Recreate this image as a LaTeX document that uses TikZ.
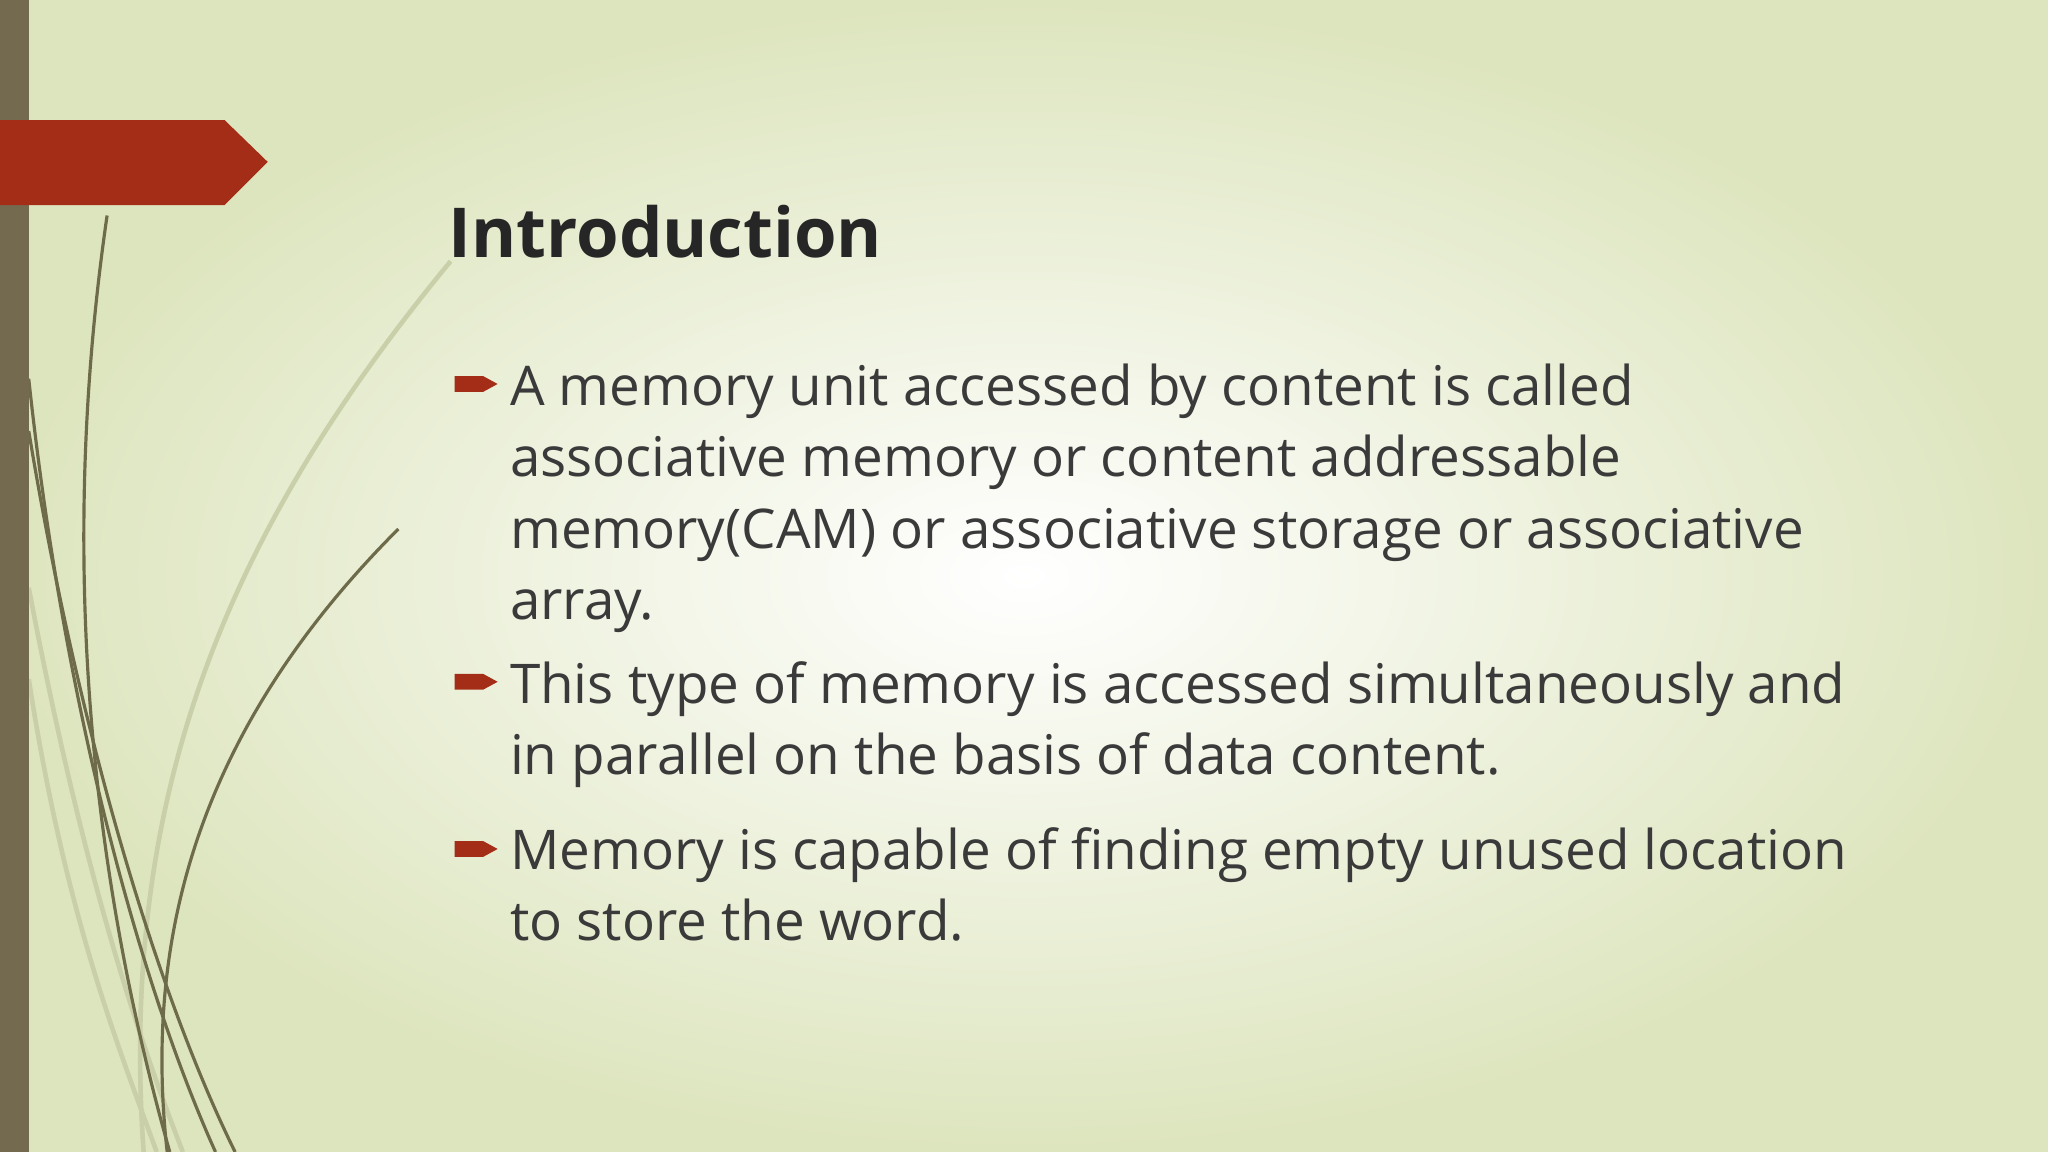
\documentclass[tikz,border=0pt]{standalone}
\usepackage{fontspec}
\setmainfont{Open Sans}
\begin{document}
\begin{tikzpicture}[x=0.013cm,y=-0.013cm,
  curve/.style={draw=olivec,line width=0.9pt},
  curvel/.style={draw=olivel,line width=1.3pt},
  body/.style={anchor=north west,align=left,font=\fontsize{15.5}{20.2}\selectfont,text=textc,inner sep=0pt},
  bul/.style={fill=redc}]
\definecolor{bgedge}{HTML}{DDE5BE}
\definecolor{olivec}{HTML}{6E6B4A}
\definecolor{olivel}{HTML}{C9CFA8}
\definecolor{redc}{HTML}{A32D16}
\definecolor{barc}{HTML}{746A50}
\definecolor{textc}{HTML}{3A3A3A}
\useasboundingbox (0,0) rectangle (1568,882);
\shade[inner color=white,outer color=bgedge] (0,0) rectangle (1568,882);
% light curves
\draw[curvel] (345,200) .. controls (180,400) and (90,600) .. (110,882);
\draw[curvel] (22,450) .. controls (60,650) and (100,780) .. (140,882);
\draw[curvel] (22,520) .. controls (50,700) and (90,800) .. (120,882);
% dark curves
\draw[curve] (82,165) .. controls (55,350) and (50,600) .. (130,882);
\draw[curve] (22,290) .. controls (50,550) and (110,760) .. (165,882);
\draw[curve] (22,330) .. controls (60,560) and (120,760) .. (180,882);
\draw[curve] (305,405) .. controls (150,560) and (110,720) .. (128,882);
% left bar
\fill[barc] (0,0) rectangle (22,882);
% red arrow
\fill[redc] (0,92) -- (172,92) -- (205,124) -- (172,157) -- (0,157) -- cycle;
% title
\node[anchor=base west,inner sep=0pt,font=\fontsize{19.5}{24}\selectfont\bfseries,text=black!85] (title) at (343,197) {Introduction};
% bullets
\foreach \y in {294,522,650}{
  \fill[redc] (348,\y-6) -- (370,\y-6) -- (381,\y) -- (370,\y+6) -- (348,\y+6) -- cycle;
}
\node[body] (b1) at (390,278) {A memory unit accessed by content is called\\associative memory or content addressable\\memory(CAM) or associative storage or associative\\array.};
\node[body] (b2) at (390,506) {This type of memory is accessed simultaneously and\\in parallel on the basis of data content.};
\node[body] (b3) at (390,633) {Memory is capable of finding empty unused location\\to store the word.};
\end{tikzpicture}
\end{document}
